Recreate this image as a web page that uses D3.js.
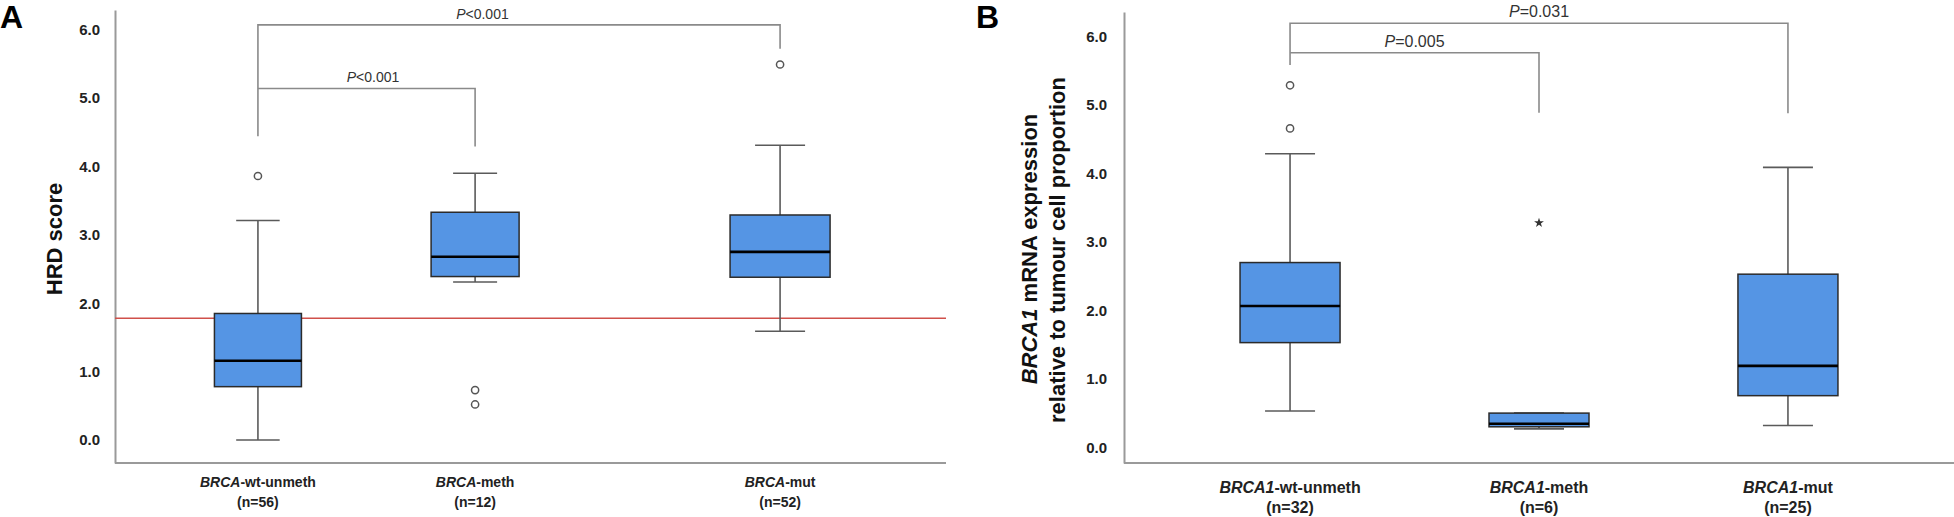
<!DOCTYPE html>
<html><head><meta charset="utf-8">
<script src="https://cdn.jsdelivr.net/npm/d3@7/dist/d3.min.js"></script>
<style>
html,body{margin:0;padding:0;background:#fff;}
svg{display:block;font-family:"Liberation Sans",Arial,sans-serif;}
</style></head><body>
<svg id="chart" width="1954" height="517"></svg>
<script>
// ---------- Data ----------
const catsA = ["BRCA-wt-unmeth", "BRCA-meth", "BRCA-mut"];
const catsAGene = ["BRCA", "BRCA", "BRCA"];
const catsASuffix = ["-wt-unmeth", "-meth", "-mut"];
const nA = [56, 12, 52];
// [lower whisker, Q1, median, Q3, upper whisker]
const statsA = [
  [0.00, 0.78, 1.16, 1.85, 3.21],
  [2.31, 2.39, 2.68, 3.33, 3.90],
  [1.59, 2.38, 2.75, 3.29, 4.31]
];
const outliersA = [[3.86], [0.73, 0.52], [5.49]];
const thresholdA = 1.78;
const pA = [
  {from: 0, to: 2, label: "<0.001", level: 6.07, dropFrom: 4.44, dropTo: 5.72, at: 0.43},
  {from: 0, to: 1, label: "<0.001", level: 5.14, dropFrom: 5.14, dropTo: 4.29, at: 0.53}
];

const catsB = ["BRCA1-wt-unmeth", "BRCA1-meth", "BRCA1-mut"];
const catsBGene = ["BRCA1", "BRCA1", "BRCA1"];
const catsBSuffix = ["-wt-unmeth", "-meth", "-mut"];
const nB = [32, 6, 25];
const statsB = [
  [0.53, 1.53, 2.065, 2.70, 4.29],
  [0.27, 0.30, 0.345, 0.50, 0.50],
  [0.32, 0.755, 1.19, 2.53, 4.09]
];
const outliersB = [[5.29, 4.66], [], []];
const extremesB = [[], [3.28], []];
const pB = [
  {from: 0, to: 2, label: "=0.031", level: 6.196, dropFrom: 5.587, dropTo: 4.88, at: 0.5},
  {from: 0, to: 1, label: "=0.005", level: 5.766, dropFrom: 5.766, dropTo: 4.89, at: 0.5}
];
const yTicks = [0, 1, 2, 3, 4, 5, 6];

// ---------- Layout ----------
const slotA = [0.516, 1.300, 2.401];     // category slot positions on A's x axis (0..3)
const boxWA = [87, 88, 100];
const boxWB = [100, 100, 100];

const svg = d3.select("#chart");
const FILL = "#5595e4", BOXSTROKE = "#2b2b2b", WHISK = "#5a5a5a", AXIS = "#9a9a9a", BRK = "#8a8a8a";

function panel(o) {
  const g = svg.append("g");
  // axes
  const yAxis = d3.axisLeft(o.y).tickValues(yTicks).tickSize(0).tickPadding(o.tickPad)
    .tickFormat(d3.format(".1f"));
  const ga = g.append("g").attr("transform", `translate(${o.x0},0)`).call(yAxis);
  ga.select(".domain").attr("stroke", AXIS).attr("stroke-width", 2);
  ga.selectAll("text").attr("font-weight", "bold").attr("font-size", o.tickFont).attr("fill", "#222")
    .attr("font-family", "'Liberation Sans',Arial,sans-serif");
  const xAxisY = o.y.range()[0];
  g.append("line").attr("x1", o.x0).attr("x2", o.x1).attr("y1", xAxisY).attr("y2", xAxisY)
    .attr("stroke", AXIS).attr("stroke-width", 2);

  if (o.threshold != null) {
    g.append("line").attr("x1", o.x0).attr("x2", o.x1)
      .attr("y1", o.y(o.threshold)).attr("y2", o.y(o.threshold))
      .attr("stroke", "#d0504a").attr("stroke-width", 1.6);
  }

  o.stats.forEach((s, i) => {
    const cx = o.cx(i), w = o.boxW[i], y = o.y;
    const [lo, q1, med, q3, hi] = s;
    const cap = w / 2;
    // whiskers
    g.append("line").attr("x1", cx).attr("x2", cx).attr("y1", y(hi)).attr("y2", y(q3)).attr("stroke", WHISK).attr("stroke-width", 1.6);
    g.append("line").attr("x1", cx).attr("x2", cx).attr("y1", y(q1)).attr("y2", y(lo)).attr("stroke", WHISK).attr("stroke-width", 1.6);
    g.append("line").attr("x1", cx - cap / 2).attr("x2", cx + cap / 2).attr("y1", y(hi)).attr("y2", y(hi)).attr("stroke", WHISK).attr("stroke-width", 1.6);
    g.append("line").attr("x1", cx - cap / 2).attr("x2", cx + cap / 2).attr("y1", y(lo)).attr("y2", y(lo)).attr("stroke", WHISK).attr("stroke-width", 1.6);
    // box
    g.append("rect").attr("x", cx - w / 2).attr("width", w).attr("y", y(q3)).attr("height", y(q1) - y(q3))
      .attr("fill", FILL).attr("stroke", BOXSTROKE).attr("stroke-width", 1.5);
    g.append("line").attr("x1", cx - w / 2).attr("x2", cx + w / 2).attr("y1", y(med)).attr("y2", y(med))
      .attr("stroke", "#000").attr("stroke-width", 2.6);
    // outliers
    (o.outliers[i] || []).forEach(v => {
      g.append("circle").attr("cx", cx).attr("cy", y(v)).attr("r", 3.6)
        .attr("fill", "#fff").attr("stroke", "#555").attr("stroke-width", 1.5);
    });
    (o.extremes ? o.extremes[i] : []).forEach(v => {
      g.append("path").attr("d", d3.symbol(d3.symbolStar, 30)())
        .attr("transform", `translate(${cx},${y(v)})`).attr("fill", "#333");
    });
    // category label
    const t = g.append("text").attr("x", cx).attr("y", o.labY1).attr("text-anchor", "middle")
      .attr("font-weight", "bold").attr("font-size", o.labFont).attr("fill", "#222");
    t.append("tspan").attr("font-style", "italic").text(o.gene[i]);
    t.append("tspan").text(o.suffix[i]);
    g.append("text").attr("x", cx).attr("y", o.labY2).attr("text-anchor", "middle")
      .attr("font-weight", "bold").attr("font-size", o.labFont).attr("fill", "#222")
      .text(`(n=${o.n[i]})`);
  });

  // significance brackets
  o.brackets.forEach(b => {
    const xa = o.cx(b.from), xb = o.cx(b.to), yl = o.y(b.level);
    const p = d3.path();
    p.moveTo(xa, o.y(b.dropFrom)); p.lineTo(xa, yl); p.lineTo(xb, yl); p.lineTo(xb, o.y(b.dropTo));
    g.append("path").attr("d", p.toString()).attr("fill", "none").attr("stroke", BRK).attr("stroke-width", 1.6);
    const t = g.append("text").attr("x", xa + (xb - xa) * b.at).attr("y", yl - 6).attr("text-anchor", "middle")
      .attr("font-size", o.pFont).attr("fill", "#333");
    t.append("tspan").attr("font-style", "italic").text("P");
    t.append("tspan").text(b.label);
  });
  return g;
}

// ---------- Panel A ----------
const yA = d3.scaleLinear().domain([-0.336, 6.287]).range([463, 10]);
const xA = d3.scaleLinear().domain([0, 3]).range([115, 946]);
panel({
  y: yA, x0: 115, x1: 946, cx: i => xA(slotA[i]), boxW: boxWA,
  stats: statsA, outliers: outliersA, threshold: thresholdA, brackets: pA,
  gene: catsAGene, suffix: catsASuffix, n: nA,
  tickPad: 15, tickFont: 15, labFont: 14, pFont: 14, labY1: 487, labY2: 507
});
svg.append("text").attr("transform", "translate(62,239) rotate(-90)").attr("text-anchor", "middle")
  .attr("font-weight", "bold").attr("font-size", 22).attr("fill", "#111").text("HRD score");
svg.append("text").attr("x", 0).attr("y", 28).attr("font-weight", "bold").attr("font-size", 32).attr("fill", "#000").text("A");

// ---------- Panel B ----------
const yB = d3.scaleLinear().domain([-0.229, 6.361]).range([463, 12]);
const xB = d3.scalePoint().domain(catsB).range([1124, 1954]).padding(0.667);
panel({
  y: yB, x0: 1124, x1: 1954, cx: i => xB(catsB[i]), boxW: boxWB,
  stats: statsB, outliers: outliersB, extremes: extremesB, threshold: null, brackets: pB,
  gene: catsBGene, suffix: catsBSuffix, n: nB,
  tickPad: 17, tickFont: 15, labFont: 16, pFont: 16, labY1: 493, labY2: 513
});
const tB = svg.append("text").attr("transform", "translate(1037,249) rotate(-90)").attr("text-anchor", "middle")
  .attr("font-weight", "bold").attr("font-size", 22).attr("fill", "#111");
tB.append("tspan").attr("font-style", "italic").text("BRCA1");
tB.append("tspan").text(" mRNA expression");
svg.append("text").attr("transform", "translate(1065,250) rotate(-90)").attr("text-anchor", "middle")
  .attr("font-weight", "bold").attr("font-size", 22).attr("fill", "#111").text("relative to tumour cell proportion");
svg.append("text").attr("x", 976).attr("y", 28).attr("font-weight", "bold").attr("font-size", 32).attr("fill", "#000").text("B");
</script>
</body></html>
